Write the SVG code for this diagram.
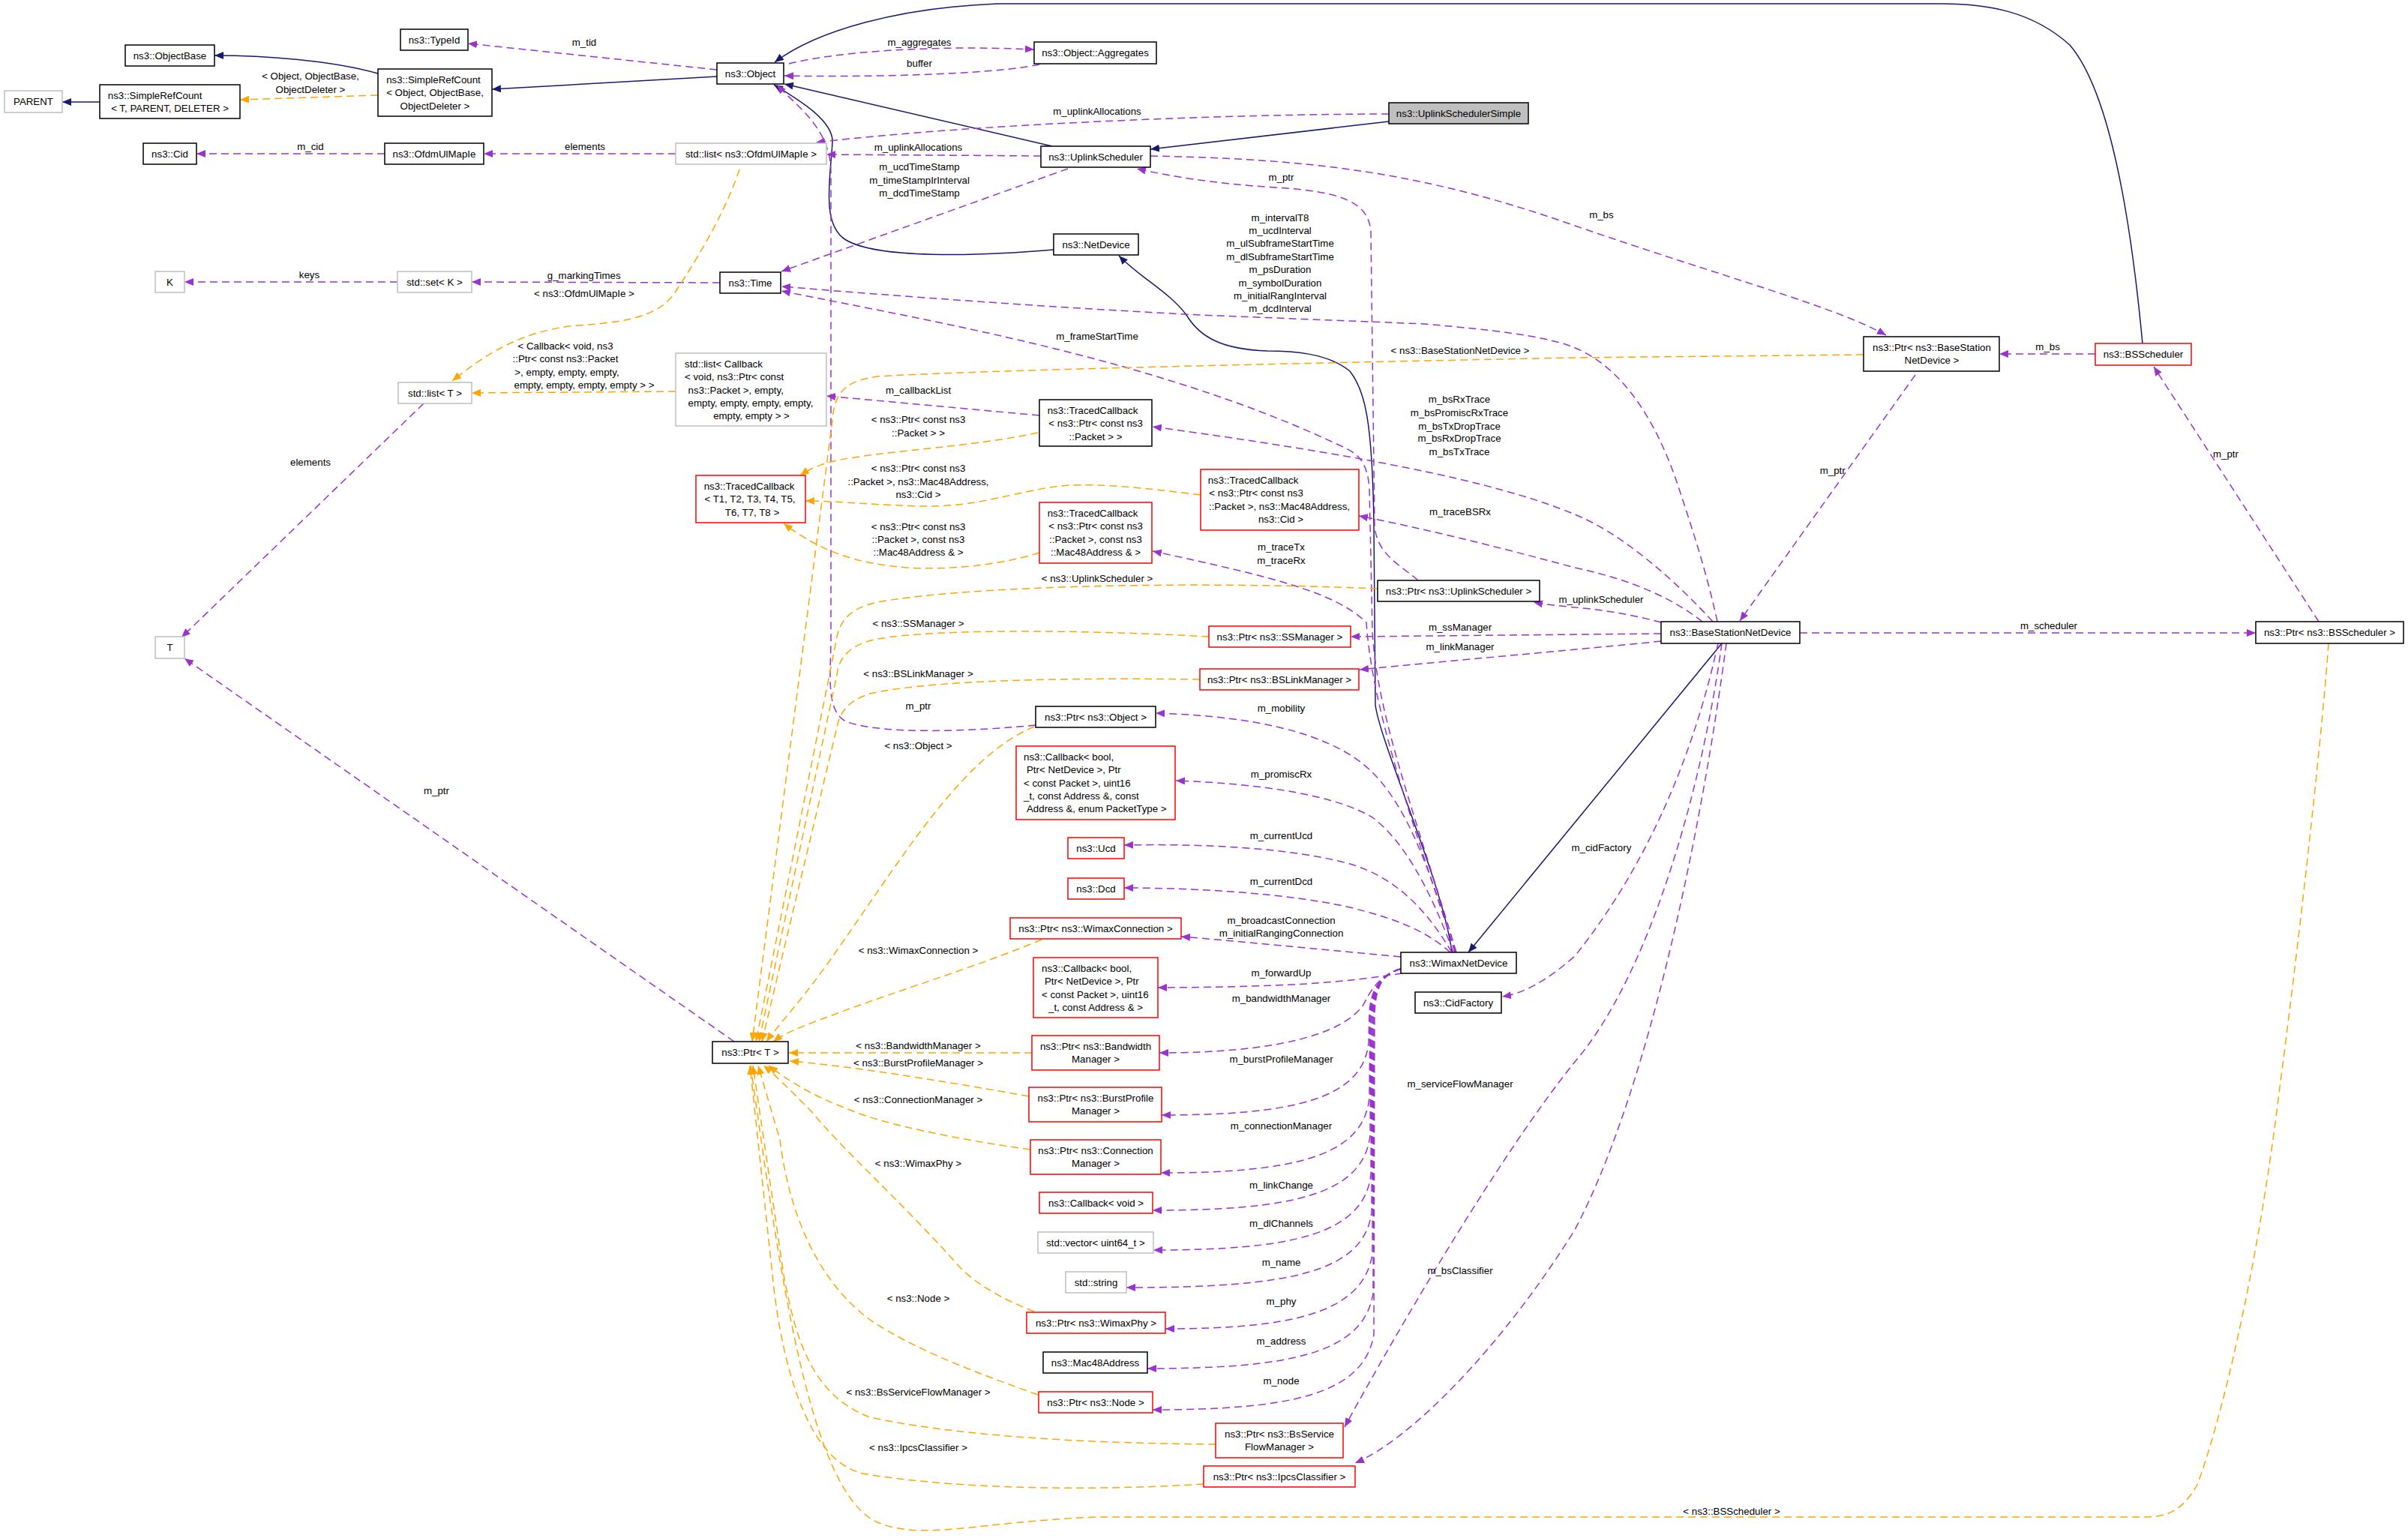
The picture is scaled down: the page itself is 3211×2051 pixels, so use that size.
<svg xmlns="http://www.w3.org/2000/svg" width="3211" height="2051" viewBox="0 0 3211 2051">
<defs>
<style>
text{font-family:"Liberation Sans",Arial,sans-serif;font-size:13.3px;fill:#000}
.m{text-anchor:middle}
.s{text-anchor:start}
rect{fill:#fff;stroke:#000;stroke-width:1.5}
rect.r{stroke:#ff0000}
rect.g{stroke:#bfbfbf}
rect.f{fill:#bfbfbf}
.ep{fill:none;stroke:#9a32cd;stroke-width:1.5;stroke-dasharray:10,6;marker-end:url(#ap)}
.en{fill:none;stroke:#191970;stroke-width:1.5;marker-end:url(#an)}
.eo{fill:none;stroke:#ffa500;stroke-width:1.5;stroke-dasharray:10,6;marker-end:url(#ao)}
</style>
<marker id="ap" viewBox="0 0 12 10" refX="12" refY="5" markerWidth="12" markerHeight="10" markerUnits="userSpaceOnUse" orient="auto"><path d="M0,0 L12,5 L0,10 z" fill="#9a32cd"/></marker>
<marker id="an" viewBox="0 0 12 10" refX="12" refY="5" markerWidth="12" markerHeight="10" markerUnits="userSpaceOnUse" orient="auto"><path d="M0,0 L12,5 L0,10 z" fill="#191970"/></marker>
<marker id="ao" viewBox="0 0 12 10" refX="12" refY="5" markerWidth="12" markerHeight="10" markerUnits="userSpaceOnUse" orient="auto"><path d="M0,0 L12,5 L0,10 z" fill="#ffa500"/></marker>
</defs>
<rect x="0" y="0" width="3211" height="2051" style="fill:#fff;stroke:none"/>

<g id="connectors">
<!-- inheritance -->
<g><path class="en" d="M133,136 L83,136"/></g>
<g><path class="en" d="M504,98 C440,80 350,74 286,74"/></g>
<g><path class="en" d="M956,102 L656,119"/></g>
<g><path class="en" d="M1403,195 L1046,112"/></g>
<g><path class="en" d="M1852,162 L1534,199"/></g>
<g><path class="en" d="M1405,333 C1300,342 1170,345 1128,320 C1095,300 1107,240 1110,190 C1112,160 1060,130 1032,113"/></g>
<g><path class="en" d="M2857,458 C2845,330 2820,130 2760,60 C2710,15 2650,5 2590,5 L1330,5 C1200,10 1090,40 1033,83"/></g>
<g><path class="en" d="M1936,1270 C1925,1180 1840,990 1834,940 L1832,700 C1830,560 1820,520 1800,495 C1770,470 1720,468 1690,468 C1630,466 1600,450 1582,420 C1560,390 1520,370 1492,341"/></g>
<g><path class="en" d="M2296,858 L1958,1270"/></g>

<!-- usage -->
<g><path class="ep" d="M956,93 L624,58"/><text class="m" x="779" y="60.5">m_tid</text></g>
<g><path class="ep" d="M1052,85 C1120,68 1250,60 1379,66"/><text class="m" x="1226" y="60.5">m_aggregates</text></g>
<g><path class="ep" d="M1386,86 C1320,100 1150,103 1046,101"/><text class="m" x="1226" y="88.7">buffer</text></g>
<g><path class="ep" d="M1852,152 C1650,152 1300,165 1088,190"/><text class="m" x="1463" y="153.4">m_uplinkAllocations</text></g>
<g><path class="ep" d="M1388,208 L1102,206"/><text class="m" x="1224.5" y="201">m_uplinkAllocations</text></g>
<g><path class="ep" d="M1424,225 L1042,362"/><text class="m" x="1226" y="227">m_ucdTimeStamp</text><text class="m" x="1226" y="244.7">m_timeStampIrInterval</text><text class="m" x="1226" y="261.7">m_dcdTimeStamp</text></g>
<g><path class="ep" d="M901,205 L645,205"/><text class="m" x="780" y="200.2">elements</text></g>
<g><path class="ep" d="M513,205 L262,205"/><text class="m" x="414" y="200.2">m_cid</text></g>
<g><path class="ep" d="M530,376 L246,376"/><text class="m" x="412.5" y="371.2">keys</text></g>
<g><path class="ep" d="M960,377 L629,376"/><text class="m" x="778.7" y="372.1">g_markingTimes</text></g>
<g><path class="ep" d="M565,538 L242,850"/><text class="m" x="414" y="620.7">elements</text></g>
<g><path class="ep" d="M979,1389 L246,878"/><text class="m" x="582" y="1058.7">m_ptr</text></g>
<g><path class="ep" d="M1386,554 L1102,528"/><text class="m" x="1224.5" y="524.7">m_callbackList</text></g>
<g><path class="ep" d="M1381,967 C1300,975 1180,980 1130,963 C1100,950 1108,900 1108,850 L1108,230 C1108,170 1060,140 1036,113"/><text class="m" x="1224.5" y="945.7">m_ptr</text></g>
<g><path class="ep" d="M1891,774 C1870,755 1835,740 1833,700 L1828,310 C1826,270 1790,255 1700,250 C1620,245 1560,235 1516,225"/><text class="m" x="1708.5" y="241.3">m_ptr</text></g>
<g><path class="ep" d="M1534,208 C1750,212 1900,230 2100,301 C2300,370 2450,410 2515,447"/><text class="m" x="2135.4" y="291.3">m_bs</text></g>
<g><path class="ep" d="M2794,472 L2666,472"/><text class="m" x="2730.6" y="466.7">m_bs</text></g>
<g><path class="ep" d="M2554,500 L2320,828"/><text class="m" x="2443.7" y="631.7">m_ptr</text></g>
<g><path class="ep" d="M3092,829 L2872,489"/><text class="m" x="2968" y="609.7">m_ptr</text></g>
<g><path class="ep" d="M2400,844 L3008,844"/><text class="m" x="2732" y="839.1">m_scheduler</text></g>
<g><path class="ep" d="M2290,829 C2275,760 2255,700 2235,640 C2200,540 2150,480 2090,460 C2050,447 1990,440 1900,432 L1600,420 C1400,410 1200,395 1042,382"/>
<text class="m" x="1707" y="295.3">m_intervalT8</text><text class="m" x="1707" y="312.3">m_ucdInterval</text><text class="m" x="1707" y="329.3">m_ulSubframeStartTime</text><text class="m" x="1707" y="347.1">m_dlSubframeStartTime</text><text class="m" x="1707" y="364.1">m_psDuration</text><text class="m" x="1707" y="381.5">m_symbolDuration</text><text class="m" x="1707" y="399.3">m_initialRangInterval</text><text class="m" x="1707" y="416.3">m_dcdInterval</text></g>
<g><path class="ep" d="M1942,1270 C1885,1080 1835,950 1830,840 L1826,650 C1823,620 1815,608 1795,598 C1550,480 1250,430 1042,388"/><text class="m" x="1463" y="453.4">m_frameStartTime</text></g>
<g><path class="ep" d="M1941,1270 C1885,1100 1830,950 1822,830 C1780,790 1700,770 1537,735"/><text class="m" x="1708.5" y="733.7">m_traceTx</text><text class="m" x="1708.5" y="751.6">m_traceRx</text></g>
<g><path class="ep" d="M2284,829 C2230,770 2160,710 2100,686 C1990,640 1800,605 1537,569"/><text class="m" x="1946" y="537.3">m_bsRxTrace</text><text class="m" x="1946" y="555.2">m_bsPromiscRxTrace</text><text class="m" x="1946" y="572.6">m_bsTxDropTrace</text><text class="m" x="1946" y="589.1">m_bsRxDropTrace</text><text class="m" x="1946" y="607.4">m_bsTxTrace</text></g>
<g><path class="ep" d="M2270,829 C2220,790 2160,770 2100,757 C2000,730 1900,705 1812,688"/><text class="m" x="1947" y="687.3">m_traceBSRx</text></g>
<g><path class="ep" d="M2215,830 C2180,820 2130,812 2100,810 C2080,808 2060,806 2045,803"/><text class="m" x="2135" y="804.3">m_uplinkScheduler</text></g>
<g><path class="ep" d="M2215,845 L1801,849"/><text class="m" x="1947" y="841.3">m_ssManager</text></g>
<g><path class="ep" d="M2215,855 C2150,862 2000,875 1813,893"/><text class="m" x="1947" y="867.2">m_linkManager</text></g>
<g><path class="ep" d="M2291,858 C2260,1000 2200,1150 2100,1275 C2060,1310 2030,1325 2003,1329"/><text class="m" x="2135.4" y="1135.1">m_cidFactory</text></g>
<g><path class="ep" d="M2296,858 C2270,1050 2200,1300 2100,1416 C2000,1540 1860,1780 1793,1903"/><text class="m" x="1947" y="1449.5">m_serviceFlowManager</text></g>
<g><path class="ep" d="M2302,858 C2270,1100 2200,1450 2100,1640 C2000,1800 1880,1920 1807,1951"/><text class="m" x="1947" y="1698.9">m_bsClassifier</text></g>
<g><path class="ep" d="M1940,1270 C1910,1170 1880,1080 1830,1030 C1780,980 1680,955 1541,951"/><text class="m" x="1708.5" y="949.3">m_mobility</text></g>
<g><path class="ep" d="M1938,1270 C1905,1180 1870,1120 1830,1090 C1780,1060 1680,1045 1568,1041"/><text class="m" x="1708.5" y="1037.3">m_promiscRx</text></g>
<g><path class="ep" d="M1936,1270 C1900,1210 1860,1170 1800,1152 C1720,1130 1600,1125 1499,1127"/><text class="m" x="1708.5" y="1119">m_currentUcd</text></g>
<g><path class="ep" d="M1934,1270 C1900,1240 1860,1225 1800,1210 C1720,1192 1600,1184 1499,1184"/><text class="m" x="1708.5" y="1180.1">m_currentDcd</text></g>
<g><path class="ep" d="M1868,1276 C1750,1265 1650,1255 1575,1249"/><text class="m" x="1708.5" y="1231.5">m_broadcastConnection</text><text class="m" x="1708.5" y="1248.5">m_initialRangingConnection</text></g>
<g><path class="ep" d="M1870,1298 C1800,1308 1750,1316 1544,1317"/><text class="m" x="1708.5" y="1302">m_forwardUp</text></g>
<g><path class="ep" d="M1868,1292 C1840,1300 1828,1320 1818,1340 C1790,1380 1700,1404 1546,1404"/><text class="m" x="1708.5" y="1335.5">m_bandwidthManager</text></g>
<g><path class="ep" d="M1868,1292 C1840,1300 1828,1320 1826,1350 L1825,1390 C1818,1467 1720,1487 1549,1487"/><text class="m" x="1708.5" y="1417.3">m_burstProfileManager</text></g>
<g><path class="ep" d="M1868,1292 C1840,1300 1829,1320 1827,1350 L1826,1464 C1818,1544 1720,1564 1548,1564"/><text class="m" x="1708.5" y="1505.7">m_connectionManager</text></g>
<g><path class="ep" d="M1868,1292 C1840,1300 1830,1320 1828,1350 L1827,1514 C1818,1594 1720,1614 1537,1614"/><text class="m" x="1708.5" y="1585.4">m_linkChange</text></g>
<g><path class="ep" d="M1868,1292 C1840,1300 1831,1320 1829,1350 L1828,1567 C1818,1647 1720,1667 1538,1667"/><text class="m" x="1708.5" y="1636.3">m_dlChannels</text></g>
<g><path class="ep" d="M1868,1292 C1840,1300 1832,1320 1830,1350 L1829,1617 C1818,1697 1720,1717 1502,1717"/><text class="m" x="1708.5" y="1687.7">m_name</text></g>
<g><path class="ep" d="M1868,1292 C1840,1300 1833,1320 1831,1350 L1830,1672 C1818,1752 1720,1772 1554,1772"/><text class="m" x="1708.5" y="1740.1">m_phy</text></g>
<g><path class="ep" d="M1868,1292 C1840,1300 1834,1320 1832,1350 L1831,1725 C1818,1805 1720,1825 1530,1825"/><text class="m" x="1708.5" y="1792.7">m_address</text></g>
<g><path class="ep" d="M1868,1292 C1840,1300 1835,1320 1833,1350 L1832,1780 C1818,1860 1720,1880 1537,1880"/><text class="m" x="1708.5" y="1845.7">m_node</text></g>

<!-- template instances -->
<g><path class="eo" d="M504,127 L320,133"/><text class="m" x="414" y="105.7">&lt; Object, ObjectBase,</text><text class="m" x="414" y="123.7">ObjectDeleter &gt;</text></g>
<g><path class="eo" d="M986,226 C965,290 920,360 900,390 C880,420 840,430 770,434 C700,440 650,470 603,508"/><text class="m" x="779" y="395.7">&lt; ns3::OfdmUlMapIe &gt;</text></g>
<g><path class="eo" d="M901,522 L629,524"/><text class="m" x="754" y="465.7">&lt; Callback&lt; void, ns3</text><text class="m" x="754" y="483.3">::Ptr&lt; const ns3::Packet</text><text class="m" x="756" y="501.1">&gt;, empty, empty, empty,</text><text class="m" x="779" y="518.1">empty, empty, empty, empty &gt; &gt;</text></g>
<g><path class="eo" d="M1384,577 C1300,595 1200,600 1140,610 C1100,615 1080,625 1067,634"/><text class="m" x="1224.5" y="564.1">&lt; ns3::Ptr&lt; const ns3</text><text class="m" x="1224.5" y="581.9">::Packet &gt; &gt;</text></g>
<g><path class="eo" d="M1601,660 C1520,650 1450,642 1400,650 C1340,660 1300,675 1240,675 C1180,675 1120,668 1074,668"/><text class="m" x="1224.5" y="628.7">&lt; ns3::Ptr&lt; const ns3</text><text class="m" x="1224.5" y="646.7">::Packet &gt;, ns3::Mac48Address,</text><text class="m" x="1224.5" y="664.1">ns3::Cid &gt;</text></g>
<g><path class="eo" d="M1386,737 C1330,755 1260,760 1210,757 C1150,752 1100,740 1045,698"/><text class="m" x="1224.5" y="707.4">&lt; ns3::Ptr&lt; const ns3</text><text class="m" x="1224.5" y="724.3">::Packet &gt;, const ns3</text><text class="m" x="1224.5" y="741.3">::Mac48Address &amp; &gt;</text></g>
<g><path class="eo" d="M2485,473 L2100,477 C1700,485 1300,494 1170,502 C1125,508 1113,525 1110,560 L1003,1389"/><text class="m" x="1947" y="472.1">&lt; ns3::BaseStationNetDevice &gt;</text></g>
<g><path class="eo" d="M1837,785 C1600,775 1300,780 1170,803 C1130,812 1118,830 1114,860 L1008,1389"/><text class="m" x="1463" y="776.1">&lt; ns3::UplinkScheduler &gt;</text></g>
<g><path class="eo" d="M1612,849 C1450,840 1250,838 1170,852 C1130,860 1118,880 1116,900 L1012,1389"/><text class="m" x="1224.5" y="835.5">&lt; ns3::SSManager &gt;</text></g>
<g><path class="eo" d="M1600,906 C1450,904 1250,905 1160,925 C1130,935 1120,950 1116,970 L1016,1389"/><text class="m" x="1224.5" y="903.4">&lt; ns3::BSLinkManager &gt;</text></g>
<g><path class="eo" d="M1379,969 C1280,1010 1200,1150 1100,1290 C1060,1345 1035,1370 1022,1389"/><text class="m" x="1224.5" y="999.3">&lt; ns3::Object &gt;</text></g>
<g><path class="eo" d="M1389,1253 C1300,1290 1200,1320 1120,1350 C1080,1365 1050,1375 1031,1389"/><text class="m" x="1224.5" y="1271.7">&lt; ns3::WimaxConnection &gt;</text></g>
<g><path class="eo" d="M1376,1404 L1052,1404"/><text class="m" x="1224.5" y="1399.4">&lt; ns3::BandwidthManager &gt;</text></g>
<g><path class="eo" d="M1372,1462 C1250,1440 1120,1420 1053,1415"/><text class="m" x="1224.5" y="1421.7">&lt; ns3::BurstProfileManager &gt;</text></g>
<g><path class="eo" d="M1374,1533 C1280,1520 1180,1500 1133,1480 C1080,1460 1050,1440 1025,1421"/><text class="m" x="1224.5" y="1471.4">&lt; ns3::ConnectionManager &gt;</text></g>
<g><path class="eo" d="M1379,1749 C1330,1730 1300,1710 1280,1690 C1200,1600 1130,1540 1080,1480 C1050,1450 1030,1430 1018,1421"/><text class="m" x="1224.5" y="1555.7">&lt; ns3::WimaxPhy &gt;</text></g>
<g><path class="eo" d="M1384,1860 C1300,1830 1220,1800 1160,1760 C1080,1700 1050,1600 1040,1520 L1011,1421"/><text class="m" x="1224.5" y="1735.7">&lt; ns3::Node &gt;</text></g>
<g><path class="eo" d="M1621,1926 C1500,1925 1300,1920 1160,1890 C1080,1860 1060,1780 1045,1700 L1004,1421"/><text class="m" x="1224.5" y="1861.2">&lt; ns3::BsServiceFlowManager &gt;</text></g>
<g><path class="eo" d="M1605,1979 C1500,1986 1300,1990 1150,1965 C1070,1945 1040,1800 1030,1700 L1000,1421"/><text class="m" x="1224.5" y="1935">&lt; ns3::IpcsClassifier &gt;</text></g>
<g><path class="eo" d="M3105,858 C3095,1000 3060,1300 3040,1450 C3010,1700 2960,1900 2930,1980 C2910,2015 2890,2023 2860,2023 L1460,2023 C1300,2030 1230,2055 1170,2030 C1080,1990 1040,1700 1001,1421"/><text class="m" x="2309" y="2019.5">&lt; ns3::BSScheduler &gt;</text></g>
</g>

<g id="n-objectbase"><rect x="167" y="60" width="119" height="28"/><text class="m" x="226.5" y="78.7">ns3::ObjectBase</text></g>
<g id="n-parent"><rect class="g" x="6" y="121" width="77" height="29"/><text class="m" x="44.5" y="140.2">PARENT</text></g>
<g id="n-simplerefcount-t"><rect x="133" y="113" width="187" height="45"/><text class="m" x="206.6" y="131.7">ns3::SimpleRefCount</text><text class="m" x="226.6" y="149.1">&lt; T, PARENT, DELETER &gt;</text></g>
<g id="n-simplerefcount-object"><rect x="504" y="92" width="152" height="63"/><text class="m" x="578" y="110.7">ns3::SimpleRefCount</text><text class="m" x="580" y="128.1">&lt; Object, ObjectBase,</text><text class="m" x="580" y="145.5">ObjectDeleter &gt;</text></g>
<g id="n-typeid"><rect x="534" y="39" width="90" height="28"/><text class="m" x="579" y="57.7">ns3::TypeId</text></g>
<g id="n-object"><rect x="956" y="84" width="89" height="28"/><text class="m" x="1000.5" y="102.7">ns3::Object</text></g>
<g id="n-aggregates"><rect x="1379" y="56" width="163" height="29"/><text class="m" x="1460.5" y="75.2">ns3::Object::Aggregates</text></g>
<g id="n-uplinkschedulersimple"><rect class="f" x="1852" y="137" width="186" height="28"/><text class="m" x="1945" y="155.7">ns3::UplinkSchedulerSimple</text></g>
<g id="n-uplinkscheduler"><rect x="1388" y="195" width="146" height="28"/><text class="m" x="1461" y="213.7">ns3::UplinkScheduler</text></g>
<g id="n-cid"><rect x="191" y="191" width="71" height="28"/><text class="m" x="226.5" y="209.7">ns3::Cid</text></g>
<g id="n-ofdmulmapie"><rect x="513" y="191" width="132" height="28"/><text class="m" x="579" y="209.7">ns3::OfdmUlMapIe</text></g>
<g id="n-list-ofdm"><rect class="g" x="901" y="191" width="201" height="28"/><text class="m" x="1001.5" y="209.7">std::list&lt; ns3::OfdmUlMapIe &gt;</text></g>
<g id="n-netdevice"><rect x="1405" y="312" width="113" height="28"/><text class="m" x="1461.5" y="330.7">ns3::NetDevice</text></g>
<g id="n-k"><rect class="g" x="207" y="362" width="39" height="28"/><text class="m" x="226.5" y="380.7">K</text></g>
<g id="n-set-k"><rect class="g" x="530" y="362" width="99" height="28"/><text class="m" x="579.5" y="380.7">std::set&lt; K &gt;</text></g>
<g id="n-time"><rect x="960" y="363" width="81" height="28"/><text class="m" x="1000.5" y="381.7">ns3::Time</text></g>
<g id="n-list-t"><rect class="g" x="531" y="510" width="98" height="28"/><text class="m" x="580" y="528.7">std::list&lt; T &gt;</text></g>
<g id="n-list-callback"><rect class="g" x="901" y="471" width="201" height="97"/><text class="s" x="913" y="489.7">std::list&lt; Callback</text><text class="s" x="913" y="507.1">&lt; void, ns3::Ptr&lt; const</text><text class="s" x="917.6" y="524.5">ns3::Packet &gt;, empty,</text><text class="s" x="917.6" y="541.9">empty, empty, empty, empty,</text><text class="m" x="1002" y="559.3">empty, empty &gt; &gt;</text></g>
<g id="n-tracedcallback-t"><rect class="r" x="928" y="634" width="146" height="63"/><text class="m" x="999" y="652.7">ns3::TracedCallback</text><text class="m" x="1000" y="670.1">&lt; T1, T2, T3, T4, T5,</text><text class="m" x="1003" y="687.5">T6, T7, T8 &gt;</text></g>
<g id="n-tracedcallback-packet"><rect x="1386" y="533" width="150" height="62"/><text class="m" x="1457" y="551.7">ns3::TracedCallback</text><text class="m" x="1461" y="569.1">&lt; ns3::Ptr&lt; const ns3</text><text class="m" x="1461" y="586.5">::Packet &gt; &gt;</text></g>
<g id="n-tracedcallback-cid"><rect class="r" x="1601" y="626" width="211" height="81"/><text class="m" x="1671" y="644.7">ns3::TracedCallback</text><text class="m" x="1675" y="662.1">&lt; ns3::Ptr&lt; const ns3</text><text class="m" x="1706" y="679.5">::Packet &gt;, ns3::Mac48Address,</text><text class="m" x="1708" y="696.9">ns3::Cid &gt;</text></g>
<g id="n-tracedcallback-mac"><rect class="r" x="1386" y="670" width="150" height="81"/><text class="m" x="1457" y="688.7">ns3::TracedCallback</text><text class="m" x="1461" y="706.1">&lt; ns3::Ptr&lt; const ns3</text><text class="m" x="1461" y="723.5">::Packet &gt;, const ns3</text><text class="m" x="1461" y="740.9">::Mac48Address &amp; &gt;</text></g>
<g id="n-ptr-bsnetdevice"><rect x="2485" y="449" width="181" height="46"/><text class="m" x="2576" y="467.7">ns3::Ptr&lt; ns3::BaseStation</text><text class="m" x="2576" y="485.1">NetDevice &gt;</text></g>
<g id="n-bsscheduler"><rect class="r" x="2794" y="458" width="128" height="29"/><text class="m" x="2858" y="477.2">ns3::BSScheduler</text></g>
<g id="n-ptr-uplinkscheduler"><rect x="1837" y="774" width="216" height="28"/><text class="m" x="1945" y="792.7">ns3::Ptr&lt; ns3::UplinkScheduler &gt;</text></g>
<g id="n-ptr-ssmanager"><rect class="r" x="1612" y="835" width="189" height="28"/><text class="m" x="1706.5" y="853.7">ns3::Ptr&lt; ns3::SSManager &gt;</text></g>
<g id="n-ptr-bslinkmanager"><rect class="r" x="1600" y="892" width="212" height="28"/><text class="m" x="1706" y="910.7">ns3::Ptr&lt; ns3::BSLinkManager &gt;</text></g>
<g id="n-ptr-object"><rect x="1381" y="942" width="160" height="28"/><text class="m" x="1461" y="960.7">ns3::Ptr&lt; ns3::Object &gt;</text></g>
<g id="n-callback-promisc"><rect class="r" x="1355" y="995" width="212" height="98"/><text class="s" x="1365" y="1013.7">ns3::Callback&lt; bool,</text><text class="s" x="1369" y="1031.1">Ptr&lt; NetDevice &gt;, Ptr</text><text class="s" x="1365" y="1048.5">&lt; const Packet &gt;, uint16</text><text class="s" x="1365" y="1065.9">_t, const Address &amp;, const</text><text class="s" x="1369" y="1083.3">Address &amp;, enum PacketType &gt;</text></g>
<g id="n-ucd"><rect class="r" x="1424" y="1117" width="75" height="28"/><text class="m" x="1461.5" y="1135.7">ns3::Ucd</text></g>
<g id="n-dcd"><rect class="r" x="1424" y="1171" width="75" height="28"/><text class="m" x="1461.5" y="1189.7">ns3::Dcd</text></g>
<g id="n-ptr-wimaxconnection"><rect class="r" x="1347" y="1224" width="228" height="28"/><text class="m" x="1461" y="1242.7">ns3::Ptr&lt; ns3::WimaxConnection &gt;</text></g>
<g id="n-wimaxnetdevice"><rect x="1868" y="1270" width="154" height="28"/><text class="m" x="1945" y="1288.7">ns3::WimaxNetDevice</text></g>
<g id="n-callback-forwardup"><rect class="r" x="1378" y="1277" width="166" height="80"/><text class="s" x="1389" y="1295.7">ns3::Callback&lt; bool,</text><text class="s" x="1393" y="1313.1">Ptr&lt; NetDevice &gt;, Ptr</text><text class="s" x="1389" y="1330.5">&lt; const Packet &gt;, uint16</text><text class="m" x="1461" y="1347.9">_t, const Address &amp; &gt;</text></g>
<g id="n-cidfactory"><rect x="1887" y="1323" width="115" height="28"/><text class="m" x="1944.5" y="1341.7">ns3::CidFactory</text></g>
<g id="n-basestationnetdevice"><rect x="2215" y="829" width="185" height="29"/><text class="m" x="2307.5" y="848.2">ns3::BaseStationNetDevice</text></g>
<g id="n-ptr-bsscheduler"><rect x="3008" y="829" width="197" height="29"/><text class="m" x="3106.5" y="848.2">ns3::Ptr&lt; ns3::BSScheduler &gt;</text></g>
<g id="n-ptr-t"><rect x="950" y="1389" width="101" height="29"/><text class="m" x="1000.5" y="1408.2">ns3::Ptr&lt; T &gt;</text></g>
<g id="n-t"><rect class="g" x="207" y="849" width="39" height="29"/><text class="m" x="226.5" y="868.2">T</text></g>
<g id="n-ptr-bandwidthmanager"><rect class="r" x="1376" y="1381" width="170" height="46"/><text class="m" x="1461" y="1399.7">ns3::Ptr&lt; ns3::Bandwidth</text><text class="m" x="1461" y="1417.1">Manager &gt;</text></g>
<g id="n-ptr-burstprofilemanager"><rect class="r" x="1372" y="1450" width="177" height="46"/><text class="m" x="1461" y="1468.7">ns3::Ptr&lt; ns3::BurstProfile</text><text class="m" x="1461" y="1486.1">Manager &gt;</text></g>
<g id="n-ptr-connectionmanager"><rect class="r" x="1374" y="1520" width="174" height="46"/><text class="m" x="1461" y="1538.7">ns3::Ptr&lt; ns3::Connection</text><text class="m" x="1461" y="1556.1">Manager &gt;</text></g>
<g id="n-callback-void"><rect class="r" x="1386" y="1590" width="151" height="28"/><text class="m" x="1461.5" y="1608.7">ns3::Callback&lt; void &gt;</text></g>
<g id="n-vector"><rect class="g" x="1384" y="1643" width="154" height="28"/><text class="m" x="1461" y="1661.7">std::vector&lt; uint64_t &gt;</text></g>
<g id="n-string"><rect class="g" x="1421" y="1696" width="81" height="28"/><text class="m" x="1461.5" y="1714.7">std::string</text></g>
<g id="n-ptr-wimaxphy"><rect class="r" x="1369" y="1750" width="185" height="28"/><text class="m" x="1461.5" y="1768.7">ns3::Ptr&lt; ns3::WimaxPhy &gt;</text></g>
<g id="n-mac48address"><rect x="1391" y="1803" width="139" height="28"/><text class="m" x="1460.5" y="1821.7">ns3::Mac48Address</text></g>
<g id="n-ptr-node"><rect class="r" x="1385" y="1856" width="152" height="28"/><text class="m" x="1461" y="1874.7">ns3::Ptr&lt; ns3::Node &gt;</text></g>
<g id="n-ptr-bsserviceflowmanager"><rect class="r" x="1621" y="1898" width="170" height="46"/><text class="m" x="1706" y="1916.7">ns3::Ptr&lt; ns3::BsService</text><text class="m" x="1706" y="1934.1">FlowManager &gt;</text></g>
<g id="n-ptr-ipcsclassifier"><rect class="r" x="1605" y="1955" width="202" height="28"/><text class="m" x="1706" y="1973.7">ns3::Ptr&lt; ns3::IpcsClassifier &gt;</text></g>
</svg>
